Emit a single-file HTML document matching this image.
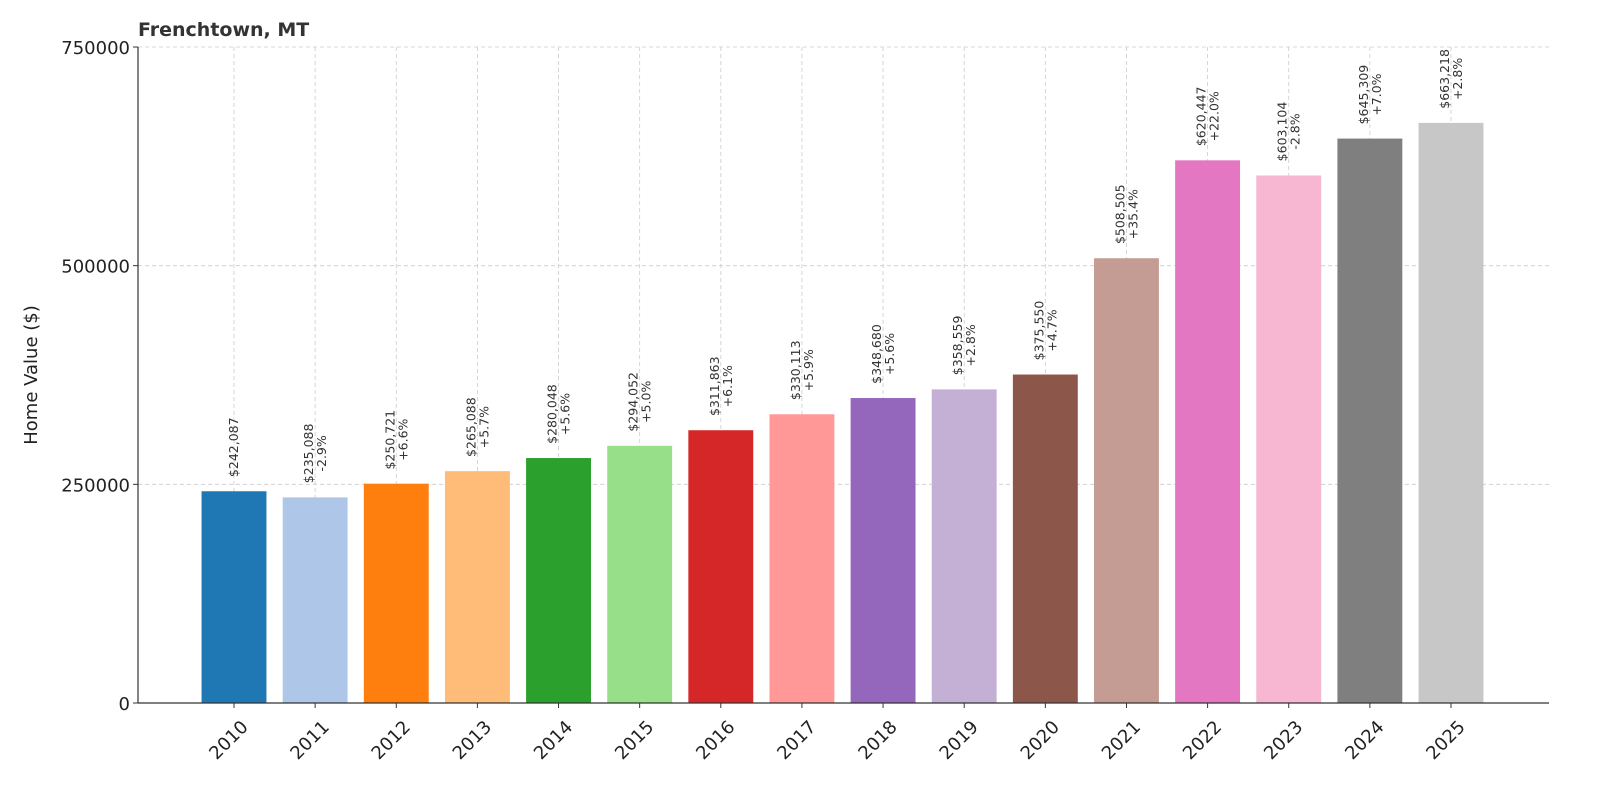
<!DOCTYPE html>
<html><head><meta charset="utf-8"><style>
body{margin:0;background:#fff;}
svg{display:block;font-family:"DejaVu Sans","Liberation Sans",sans-serif;}
</style></head><body>
<svg id="chart" width="1600" height="800" viewBox="0 0 1600 800"></svg>
<script>
const years = ["2010","2011","2012","2013","2014","2015","2016","2017","2018","2019","2020","2021","2022","2023","2024","2025"];
const values = [242087,235088,250721,265088,280048,294052,311863,330113,348680,358559,375550,508505,620447,603104,645309,663218];
const yTicks = [0,250000,500000,750000];
const colors = ["#1f77b4","#aec7e8","#ff7f0e","#ffbb78","#2ca02c","#98df8a","#d62728","#ff9896","#9467bd","#c5b0d5","#8c564b","#c49c94","#e377c2","#f7b6d2","#7f7f7f","#c7c7c7"];

const NS="http://www.w3.org/2000/svg";
const svg=document.getElementById('chart');
const L=138,R=1549,T=47,B=703,YMAX=750000;
const step=(1451-234)/15;
const x=i=>234+i*step;
const y=v=>B-(v/YMAX)*(B-T);
function mk(tag,attrs,parent){const e=document.createElementNS(NS,tag);for(const k in attrs)e.setAttribute(k,attrs[k]);(parent||svg).appendChild(e);return e;}

yTicks.forEach(t=>{
  const g=mk('line',{x1:L,x2:R,y1:y(t),y2:y(t),stroke:'#cccccc','stroke-dasharray':'4,3','stroke-width':0.8});
  
  
});
years.forEach((yr,i)=>{
  const g=mk('line',{x1:x(i),x2:x(i),y1:T,y2:B,stroke:'#cccccc','stroke-dasharray':'4,3','stroke-width':0.8});
  
  
});

const bw=step*0.8;
values.forEach((v,i)=>{
  const r=mk('rect',{x:x(i)-bw/2,y:y(v),width:bw,height:B-y(v),fill:colors[i]});
  
  
  const top=y(v);
  const valTxt='$'+v.toLocaleString('en-US');
  const cy=top-11-33;
  if(i===0){
    const t=mk('text',{x:0,y:0,transform:`translate(${x(i)+4},${cy}) rotate(-90)`,'text-anchor':'middle','font-size':12.5,fill:'#333'});
    t.textContent=valTxt;
    
    
  } else {
    const pct=(v-values[i-1])/values[i-1]*100;
    const pTxt=(pct>=0?'+':'')+pct.toFixed(1)+'%';
    const t1=mk('text',{x:0,y:0,transform:`translate(${x(i)-2},${cy}) rotate(-90)`,'text-anchor':'middle','font-size':12.5,fill:'#333'});
    t1.textContent=valTxt;
    
    
    const t2=mk('text',{x:0,y:0,transform:`translate(${x(i)+11},${cy}) rotate(-90)`,'text-anchor':'middle','font-size':12.5,fill:'#333'});
    t2.textContent=pTxt;
    
    
  }
  const tk=mk('line',{x1:x(i),x2:x(i),y1:B,y2:B+5,stroke:'#333'});
  
  
  const xl=mk('text',{x:0,y:0,transform:`translate(${x(i)+6},${B+16}) rotate(-45)`,'text-anchor':'end','font-size':18,fill:'#222','dominant-baseline':'hanging'});
  xl.textContent=years[i];
  
  
});

yTicks.forEach(t=>{
  const tk=mk('line',{x1:L-5,x2:L,y1:y(t),y2:y(t),stroke:'#333'});
  
  
  const l=mk('text',{x:L-8,y:y(t)+7,'text-anchor':'end','font-size':18,fill:'#222'});
  l.textContent=t;
  
  
});

const ax1=mk('line',{x1:L,x2:L,y1:T,y2:B,stroke:'#333','stroke-width':1.2});


const ax2=mk('line',{x1:L,x2:R,y1:B,y2:B,stroke:'#333','stroke-width':1.2});



const yt=mk('text',{x:0,y:0,transform:`translate(37,375) rotate(-90)`,'text-anchor':'middle','font-size':18,fill:'#222'});
yt.textContent='Home Value ($)';


const ti=mk('text',{x:138,y:36,'font-size':19,'font-weight':'bold',fill:'#333'});
ti.textContent='Frenchtown, MT';


</script>
</body></html>
